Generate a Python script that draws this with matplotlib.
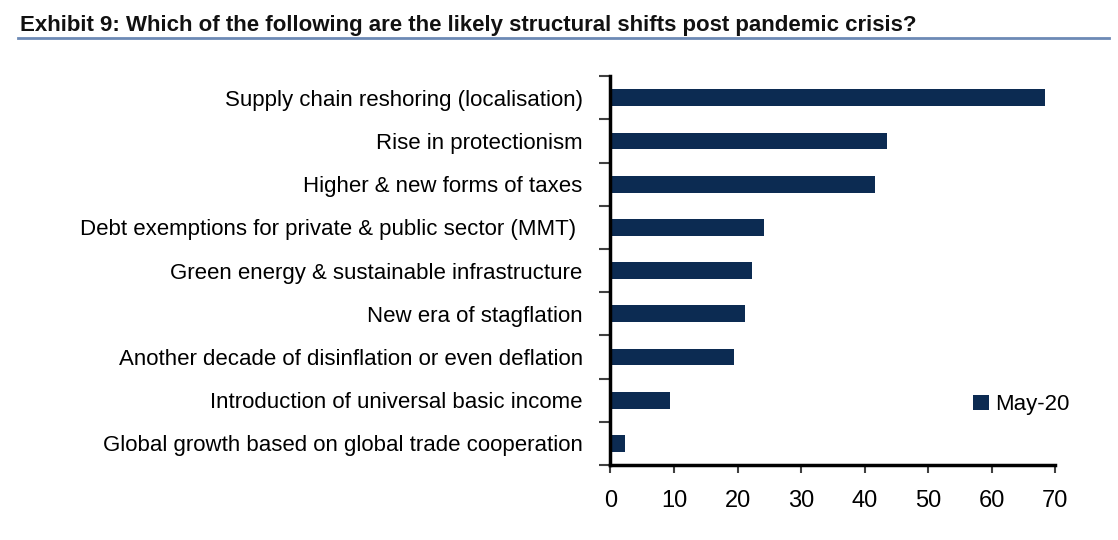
import matplotlib
matplotlib.use("Agg")
import matplotlib.pyplot as plt
import numpy as np

# survey answers, top to bottom
categories = [
    "Supply chain reshoring (localisation)",
    "Rise in protectionism",
    "Higher & new forms of taxes",
    "Debt exemptions for private & public sector (MMT) ",
    "Green energy & sustainable infrastructure",
    "New era of stagflation",
    "Another decade of disinflation or even deflation",
    "Introduction of universal basic income",
    "Global growth based on global trade cooperation",
]
may20 = [68.3, 43.5, 41.7, 24.1, 22.2, 21.1, 19.4, 9.3, 2.3]
xticks = [0, 10, 20, 30, 40, 50, 60, 70]

navy = "#0c2b52"
sans = ["Liberation Sans", "DejaVu Sans"]

fig = plt.figure(figsize=(11.18, 5.4), dpi=100)
ax = fig.add_axes([0.546, 0.139, 0.398, 0.72])

y = np.arange(len(categories))
ax.barh(y, may20, height=0.39, color=navy, label="May-20")

ax.set_ylim(len(categories) - 0.5, -0.5)
ax.set_xlim(0, 70)
ax.set_xticks(xticks)
ax.set_xticklabels([str(t) for t in xticks], family=sans, fontsize=17)

# categories as labels, ticks sitting on the boundaries
ax.set_yticks(y)
ax.set_yticklabels(categories, family=sans, fontsize=16)
ax.tick_params(axis="y", length=0, pad=20)
ax.set_yticks(np.arange(len(categories) + 1) - 0.5, minor=True)
ax.tick_params(axis="y", which="minor", length=8, width=1.5, color="#404040")
ax.tick_params(axis="x", length=6, width=1.5, color="#404040", pad=12)

for s in ["top", "right"]:
    ax.spines[s].set_visible(False)
ax.spines["left"].set_linewidth(2.5)
ax.spines["bottom"].set_linewidth(2.5)

leg = ax.legend(loc="center left", bbox_to_anchor=(0.77, 0.155), frameon=False,
                prop={"family": sans, "size": 16}, handlelength=0.7,
                handleheight=0.7, handletextpad=0.3)

fig.text(0.018, 0.943, "Exhibit 9: Which of the following are the likely structural shifts post pandemic crisis?",
         family=sans, fontsize=16, fontweight="bold", color="#111111", va="baseline")
fig.add_artist(plt.Line2D([0.016, 0.992], [0.929, 0.929], color="#6d8ab5", linewidth=2))

fig.savefig("out.png", dpi=100)
